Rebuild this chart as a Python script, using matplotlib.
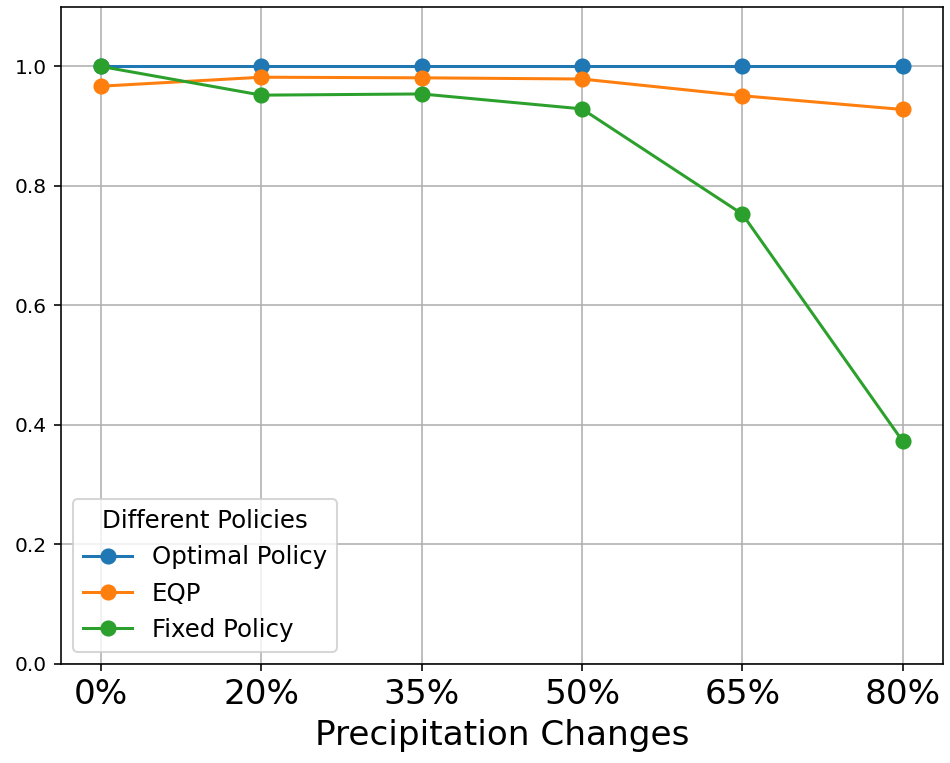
#!/usr/bin/env python3
"""Relative performance of policies under precipitation changes."""
import matplotlib

matplotlib.use("Agg")
import matplotlib.pyplot as plt

changes = ["0%", "20%", "35%", "50%", "65%", "80%"]
optimal = [1.0, 1.0, 1.0, 1.0, 1.0, 1.0]
eqp = [0.967, 0.982, 0.981, 0.979, 0.951, 0.928]
fixed = [1.0, 0.952, 0.954, 0.929, 0.753, 0.373]

DPI = 145
fig = plt.figure(figsize=(950 / DPI, 763 / DPI), dpi=DPI)
ax = fig.add_axes([0.0642, 0.1298, 0.9281, 0.8614])

x = range(len(changes))
ax.plot(x, optimal, marker="o", markersize=7, label="Optimal Policy")
ax.plot(x, eqp, marker="o", markersize=7, label="EQP")
ax.plot(x, fixed, marker="o", markersize=7, label="Fixed Policy")

ax.set_xticks(list(x))
ax.set_xticklabels(changes, fontsize=17)
ax.set_xlabel("Precipitation Changes", fontsize=17)
ax.set_ylim(0, 1.1)
ax.set_yticks([0.0, 0.2, 0.4, 0.6, 0.8, 1.0])
ax.grid(True)
ax.legend(title="Different Policies", loc="lower left", fontsize=12.2, title_fontsize=12.2)

fig.savefig("out.png", dpi=DPI)
